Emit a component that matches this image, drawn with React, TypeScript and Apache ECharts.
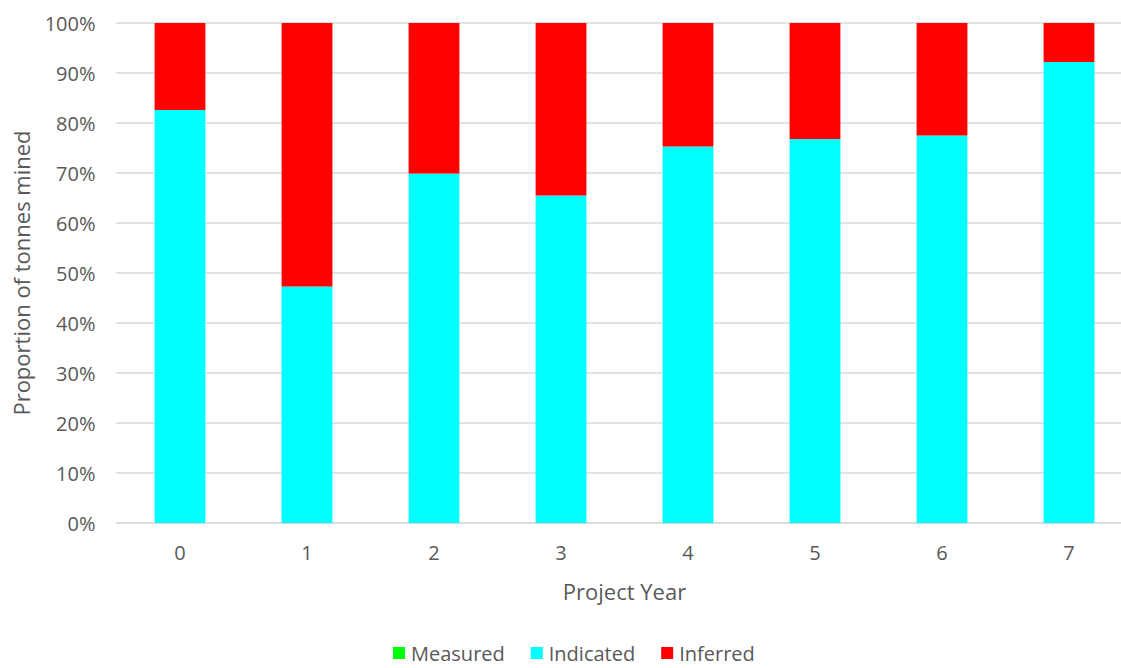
import React, { useEffect, useRef } from "react";
import * as echarts from "echarts";

const categories = ["0", "1", "2", "3", "4", "5", "6", "7"];
const measured = [0, 0, 0, 0, 0, 0, 0, 0];
const indicated = [82.6, 47.3, 69.9, 65.5, 75.3, 76.8, 77.5, 92.2];
const inferred = [17.4, 52.7, 30.1, 34.5, 24.7, 23.2, 22.5, 7.8];
const yTicks = [0, 10, 20, 30, 40, 50, 60, 70, 80, 90, 100];

const FONT = "'Open Sans', 'Noto Sans', sans-serif";
const TXT = "#595959";

export default function App() {
  const ref = useRef<HTMLDivElement>(null);
  useEffect(() => {
    if (!ref.current) return;
    const chart = echarts.init(ref.current, null, { renderer: "svg" });
    chart.setOption({
      animation: false,
      textStyle: { fontFamily: FONT },
      legend: {
        bottom: 0,
        left: 388,
        itemWidth: 12,
        itemHeight: 12,
        itemGap: 26,
        icon: "rect",
        textStyle: { color: TXT, fontSize: 20, fontFamily: FONT, padding: [0, 0, 0, 1] },
        data: ["Measured", "Indicated", "Inferred"],
      },
      grid: {
        left: 116.5,
        right: -11.5,
        top: 23,
        bottom: 145,
        containLabel: false,
        outerBoundsMode: "none",
      },
      xAxis: {
        type: "category",
        data: categories,
        name: "Project Year",
        nameLocation: "middle",
        nameGap: 57,
        nameTextStyle: { color: TXT, fontSize: 22, fontFamily: FONT },
        axisLine: { lineStyle: { color: "#d9d9d9", width: 1.5 } },
        axisTick: { show: false },
        axisLabel: { color: TXT, fontSize: 20, fontFamily: FONT, margin: 19 },
      },
      yAxis: {
        type: "value",
        min: 0,
        max: 100,
        interval: 10,
        name: "Proportion of tonnes mined",
        nameLocation: "middle",
        nameGap: 85,
        nameTextStyle: { color: TXT, fontSize: 22, fontFamily: FONT },
        axisLine: { show: false },
        axisTick: { show: false },
        splitLine: { lineStyle: { color: "#d9d9d9", width: 1.5 } },
        axisLabel: {
          color: TXT,
          fontSize: 20,
          fontFamily: FONT,
          margin: 21,
          formatter: (v: number) => (yTicks.includes(v) ? v + "%" : ""),
        },
      },
      series: [
        { name: "Measured", type: "bar", stack: "s", barWidth: "40%", data: measured, itemStyle: { color: "#00ff00" } },
        { name: "Indicated", type: "bar", stack: "s", barWidth: "40%", data: indicated, itemStyle: { color: "#00ffff" } },
        { name: "Inferred", type: "bar", stack: "s", barWidth: "40%", data: inferred, itemStyle: { color: "#ff0000" } },
      ],
    });
    return () => chart.dispose();
  }, []);
  return (
    <div
      ref={ref}
      style={{ position: "absolute", left: 0, top: 0, width: 1121, height: 668, background: "#fff" }}
    />
  );
}
